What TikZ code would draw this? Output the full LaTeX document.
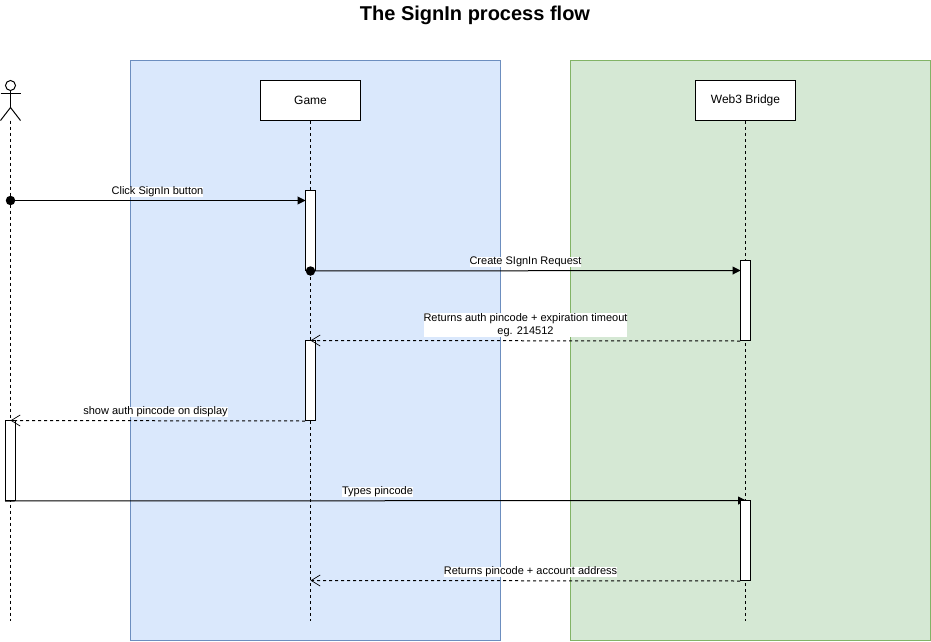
\documentclass[tikz,border=0pt]{standalone}
\usepackage{fontspec}
\setmainfont{Liberation Sans}
\usetikzlibrary{arrows.meta}
\definecolor{bluefill}{HTML}{DAE8FC}
\definecolor{blueline}{HTML}{6C8EBF}
\definecolor{greenfill}{HTML}{D5E8D4}
\definecolor{greenline}{HTML}{82B366}
\tikzset{
  participant/.style={draw=black, fill=white, line width=1pt, minimum width=100pt, minimum height=40pt, inner sep=0pt, font=\fontsize{12}{14}\selectfont},
  activation/.style={draw=black, fill=white, line width=1pt, minimum width=10pt, minimum height=80pt, inner sep=0pt},
  lifeline/.style={draw=black, line width=1pt, dash pattern=on 3pt off 3pt},
  callmsg/.style={draw=black, line width=1pt, -{Triangle[length=8pt,width=8pt]}},
  retmsg/.style={draw=black, line width=1pt, dash pattern=on 3pt off 3pt, -{Straight Barb[length=9pt,width=11pt,line width=0.7pt]}},
  startdot/.style={fill=black, circle, inner sep=0pt, minimum size=9.5pt},
  msglabel/.style={fill=white, inner sep=0pt, align=center, font=\fontsize{11}{13}\selectfont},
  actorline/.style={draw=black, line width=1pt}
}
\begin{document}
\begin{tikzpicture}[x=1pt,y=-1pt]
\useasboundingbox (0,0) rectangle (931,642);
% panels
\draw[draw=blueline, fill=bluefill, line width=1pt] (130.5,60.5) rectangle (500.5,640.5);
\draw[draw=greenline, fill=greenfill, line width=1pt] (570.5,60.5) rectangle (930.5,640.5);
% title
\node[font=\bfseries\fontsize{20}{24}\selectfont, inner sep=0pt] (title) at (475,15.5) {The SignIn process flow};
% participants
\node[participant] (game) at (310.5,100.5) {Game};
\node[participant] (web3) at (745.5,100.5) {Web3 Bridge};
% actor
\node[draw=black, fill=white, line width=1pt, circle, inner sep=0pt, minimum size=10pt] (head) at (10.5,85.5) {};
\coordinate (hip) at (10.5,107.5);
\coordinate (armL) at (0.5,93.5);
\coordinate (armR) at (20.5,93.5);
\coordinate (legL) at (0.5,120.5);
\coordinate (legR) at (20.5,120.5);
\coordinate (actorbase) at (10.5,120.5);
\draw[actorline] (head.south) -- (hip);
\draw[actorline] (armL) -- (armR);
\draw[actorline] (legL) -- (hip) -- (legR);
% lifelines
\coordinate (actorend) at (10.5,620.5);
\coordinate (gameend) at (310.5,620.5);
\coordinate (web3end) at (745.5,620.5);
\draw[lifeline] (actorbase) -- (actorend);
\draw[lifeline] (game.south) -- (gameend);
\draw[lifeline] (web3.south) -- (web3end);
% activations
\node[activation] (g1) at (310.5,230.5) {};
\node[activation] (g2) at (310.5,380.5) {};
\node[activation] (w1) at (745.5,300.5) {};
\node[activation] (a1) at (10.5,460.5) {};
% message ends
\node[startdot] (d1) at (10.5,200.5) {};
\node[startdot] (d2) at (g1.south) {};
\coordinate (m1e) at (305.5,200.5);
\coordinate (m4e) at (10.5,420.5);
\coordinate (m3e) at (310.5,340.5);
\coordinate (m2e) at (740.5,270.5);
\coordinate (m5e) at (746,500.5);
\coordinate (m6e) at (310.5,580.5);
% messages
\draw[callmsg] (d1.center) -- (m1e);
\draw[callmsg] (d2.center) -- (m2e);
\draw[retmsg] (w1.south west) -- (m3e);
\draw[retmsg] (g2.south west) -- (m4e);
\draw[callmsg] (a1.south west) -- (m5e);
\node[activation] (w2) at (745.5,540.5) {};
\draw[retmsg] (w2.south west) -- (m6e);
% labels
\node[msglabel] (l1) at (157.5,192) {Click SignIn button};
\node[msglabel] (l2) at (525.5,262) {Create SIgnIn Request};
\node[msglabel] (l3) at (525.5,325) {Returns auth pincode + expiration timeout\\eg. 214512};
\node[msglabel] (l4) at (155.5,412) {show auth pincode on display};
\node[msglabel] (l5) at (377.5,492) {Types pincode};
\node[msglabel] (l6) at (530.5,572) {Returns pincode + account address};
\end{tikzpicture}
\end{document}
